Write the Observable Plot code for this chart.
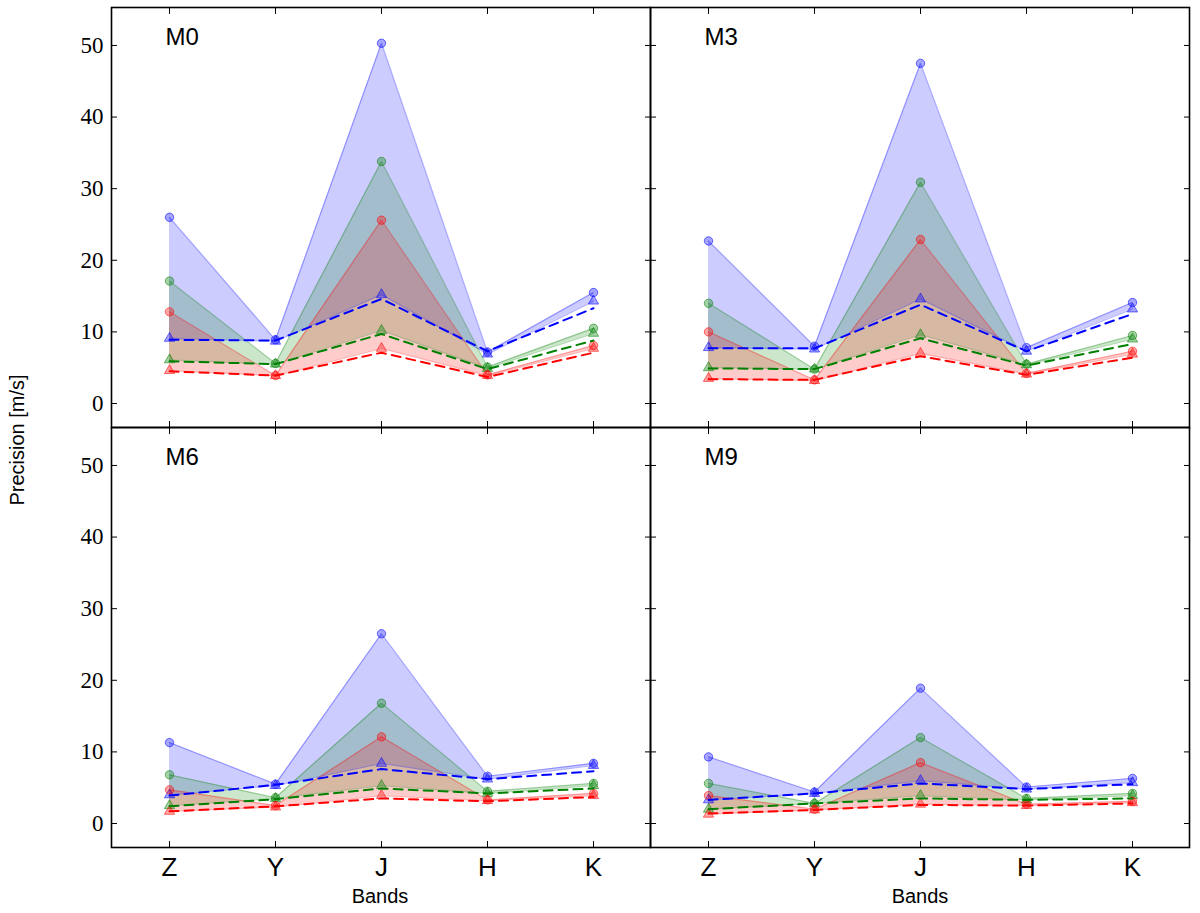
<!DOCTYPE html>
<html>
<head>
<meta charset="utf-8">
<script src="https://cdn.jsdelivr.net/npm/d3@7"></script>
<script src="https://cdn.jsdelivr.net/npm/@observablehq/plot@0.6"></script>
<style>
  body { margin: 0; background: white; }
  #chart { position: relative; width: 1200px; height: 913px; font-family: "Liberation Sans", Arial, sans-serif; }
  #chart svg { position: absolute; overflow: visible; }
  .lbl { position: absolute; font-size: 20px; color: black; white-space: nowrap; }
</style>
</head>
<body>
<div id="chart"></div>
<script>
// bandas y ticks
const bands = ['Z', 'Y', 'J', 'H', 'K']
const yTicks = [0, 10, 20, 30, 40, 50]

// M0
const m0BlueCircle = [26.0, 8.9, 50.3, 7.2, 15.5]
const m0BlueTriangle = [9.1, 8.7, 15.2, 6.9, 14.3]
const m0BlueDashed = [8.9, 8.8, 14.6, 7.3, 13.3]
const m0GreenCircle = [17.1, 5.6, 33.8, 5.1, 10.5]
const m0GreenTriangle = [6.1, 5.5, 10.2, 4.9, 9.8]
const m0GreenDashed = [5.9, 5.5, 9.7, 4.8, 8.8]
const m0RedCircle = [12.8, 3.9, 25.6, 4.0, 8.1]
const m0RedTriangle = [4.6, 3.9, 7.7, 3.9, 7.7]
const m0RedDashed = [4.5, 3.9, 7.1, 3.7, 7.1]

// M3
const m3BlueCircle = [22.7, 8.0, 47.5, 7.8, 14.1]
const m3BlueTriangle = [7.8, 7.6, 14.6, 7.3, 13.2]
const m3BlueDashed = [7.7, 7.7, 13.8, 7.3, 12.5]
const m3GreenCircle = [14.0, 4.8, 30.9, 5.5, 9.5]
const m3GreenTriangle = [5.0, 4.8, 9.6, 5.4, 9.0]
const m3GreenDashed = [4.9, 4.8, 9.1, 5.3, 8.3]
const m3RedCircle = [10.0, 3.3, 22.9, 4.2, 7.3]
const m3RedTriangle = [3.5, 3.2, 7.0, 4.1, 6.9]
const m3RedDashed = [3.4, 3.3, 6.6, 4.0, 6.4]

// M6
const m6BlueCircle = [11.3, 5.5, 26.5, 6.6, 8.4]
const m6BlueTriangle = [4.0, 5.3, 8.4, 6.2, 8.1]
const m6BlueDashed = [3.9, 5.4, 7.6, 6.2, 7.3]
const m6GreenCircle = [6.8, 3.6, 16.8, 4.5, 5.6]
const m6GreenTriangle = [2.5, 3.5, 5.3, 4.2, 5.3]
const m6GreenDashed = [2.4, 3.4, 4.9, 4.2, 4.9]
const m6RedCircle = [4.7, 2.5, 12.1, 3.3, 4.2]
const m6RedTriangle = [1.7, 2.3, 3.9, 3.2, 3.9]
const m6RedDashed = [1.7, 2.4, 3.5, 3.1, 3.7]

// M9
const m9BlueCircle = [9.3, 4.4, 18.9, 5.1, 6.3]
const m9BlueTriangle = [3.3, 4.2, 6.0, 4.8, 5.7]
const m9BlueDashed = [3.3, 4.2, 5.6, 4.8, 5.5]
const m9GreenCircle = [5.6, 2.8, 12.0, 3.5, 4.2]
const m9GreenTriangle = [2.0, 2.8, 3.9, 3.3, 3.9]
const m9GreenDashed = [2.0, 2.8, 3.5, 3.3, 3.5]
const m9RedCircle = [3.9, 2.0, 8.5, 2.7, 3.1]
const m9RedTriangle = [1.3, 1.9, 2.7, 2.5, 2.9]
const m9RedDashed = [1.4, 1.9, 2.6, 2.5, 2.8]

const colors = {blue: '#0000ff', green: '#008000', red: '#ff0000'}

// arma las filas de un color
function rows(circle, triangle, dashed) {
  return bands.map((b, i) => ({band: b, hi: circle[i], lo: triangle[i], dash: dashed[i]}))
}

const panels = [
  {name: 'M0', left: true, bottom: false, series: {
    blue: rows(m0BlueCircle, m0BlueTriangle, m0BlueDashed),
    green: rows(m0GreenCircle, m0GreenTriangle, m0GreenDashed),
    red: rows(m0RedCircle, m0RedTriangle, m0RedDashed)}},
  {name: 'M3', left: false, bottom: false, series: {
    blue: rows(m3BlueCircle, m3BlueTriangle, m3BlueDashed),
    green: rows(m3GreenCircle, m3GreenTriangle, m3GreenDashed),
    red: rows(m3RedCircle, m3RedTriangle, m3RedDashed)}},
  {name: 'M6', left: true, bottom: true, series: {
    blue: rows(m6BlueCircle, m6BlueTriangle, m6BlueDashed),
    green: rows(m6GreenCircle, m6GreenTriangle, m6GreenDashed),
    red: rows(m6RedCircle, m6RedTriangle, m6RedDashed)}},
  {name: 'M9', left: false, bottom: true, series: {
    blue: rows(m9BlueCircle, m9BlueTriangle, m9BlueDashed),
    green: rows(m9GreenCircle, m9GreenTriangle, m9GreenDashed),
    red: rows(m9RedCircle, m9RedTriangle, m9RedDashed)}}
]

const order = ['blue', 'green', 'red']

function panel(p) {
  const mLeft = p.left ? 111 : 0
  const mRight = p.left ? 0 : 11
  const mTop = p.bottom ? 0 : 7
  const mBottom = p.bottom ? 66 : 0
  const marks = []
  // areas entre circulos y triangulos
  order.forEach(c => {
    marks.push(Plot.areaY(p.series[c], {x: 'band', y1: 'lo', y2: 'hi', fill: colors[c], fillOpacity: 0.2}))
  })
  order.forEach(c => {
    const col = colors[c]
    marks.push(
      Plot.line(p.series[c], {x: 'band', y: 'hi', stroke: col, strokeOpacity: 0.3, strokeWidth: 1.2}),
      Plot.line(p.series[c], {x: 'band', y: 'lo', stroke: col, strokeOpacity: 0.3, strokeWidth: 1.2}),
      Plot.dot(p.series[c], {x: 'band', y: 'hi', r: 4.2, symbol: 'circle', fill: col, fillOpacity: 0.35, stroke: col, strokeOpacity: 0.55, strokeWidth: 1}),
      Plot.dot(p.series[c], {x: 'band', y: 'lo', r: 3.8, symbol: 'triangle', fill: col, fillOpacity: 0.35, stroke: col, strokeOpacity: 0.55, strokeWidth: 1})
    )
  })
  order.forEach(c => {
    marks.push(Plot.line(p.series[c], {x: 'band', y: 'dash', stroke: colors[c], strokeWidth: 2, strokeDasharray: '9,6'}))
  })
  // ejes con ticks hacia adentro
  marks.push(
    Plot.axisY(yTicks, {anchor: 'left', tickSize: -6, label: null, tickFormat: () => ''}),
    Plot.axisY(yTicks, {anchor: 'right', tickSize: -6, label: null, tickFormat: () => ''}),
    Plot.axisX(bands, {anchor: 'top', tickSize: -6, label: null, tickFormat: () => ''}),
    Plot.axisX(bands, {anchor: 'bottom', tickSize: -6, tickPadding: 16, label: null,
      tickFormat: p.bottom ? d => d : () => '', fontSize: 26}),
    Plot.frame({stroke: 'black', strokeWidth: 1.6}),
    Plot.text([p.name], {frameAnchor: 'top-left', dx: 54, dy: 20, textAnchor: 'start', lineAnchor: 'top',
      fontSize: 24, fill: 'black'})
  )
  // etiquetas del eje y en serif
  if (p.left) {
    marks.push(Plot.text(yTicks, {y: d => d, text: d => String(d), frameAnchor: 'left', dx: -8, textAnchor: 'end',
      fontSize: 23, fontFamily: '"Liberation Serif", "DejaVu Serif", serif', fill: 'black'}))
  }
  const chart = Plot.plot({
    width: 539 + mLeft + mRight,
    height: 420 + mTop + mBottom,
    marginLeft: mLeft, marginRight: mRight, marginTop: mTop, marginBottom: mBottom,
    style: {background: 'transparent', overflow: 'visible', color: 'black', fontFamily: '"Liberation Sans", Arial, sans-serif'},
    x: {type: 'point', domain: bands, padding: 0.536, axis: null},
    y: {domain: [-3.35, 55.3], axis: null},
    marks: marks
  })
  chart.style.left = (p.left ? 0 : 650) + 'px'
  chart.style.top = (p.bottom ? 427 : 0) + 'px'
  return chart
}

const root = d3.select('#chart')
panels.forEach(p => root.append(() => panel(p)))

// etiquetas de los ejes
root.append('div').attr('class', 'lbl').text('Bands').style('left', '380px').style('top', '885px').style('transform', 'translateX(-50%)')
root.append('div').attr('class', 'lbl').text('Bands').style('left', '920px').style('top', '885px').style('transform', 'translateX(-50%)')
root.append('div').attr('class', 'lbl').text('Precision [m/s]')
  .style('left', '17px').style('top', '440px').style('transform', 'translate(-50%, -50%) rotate(-90deg)')
</script>
</body>
</html>
